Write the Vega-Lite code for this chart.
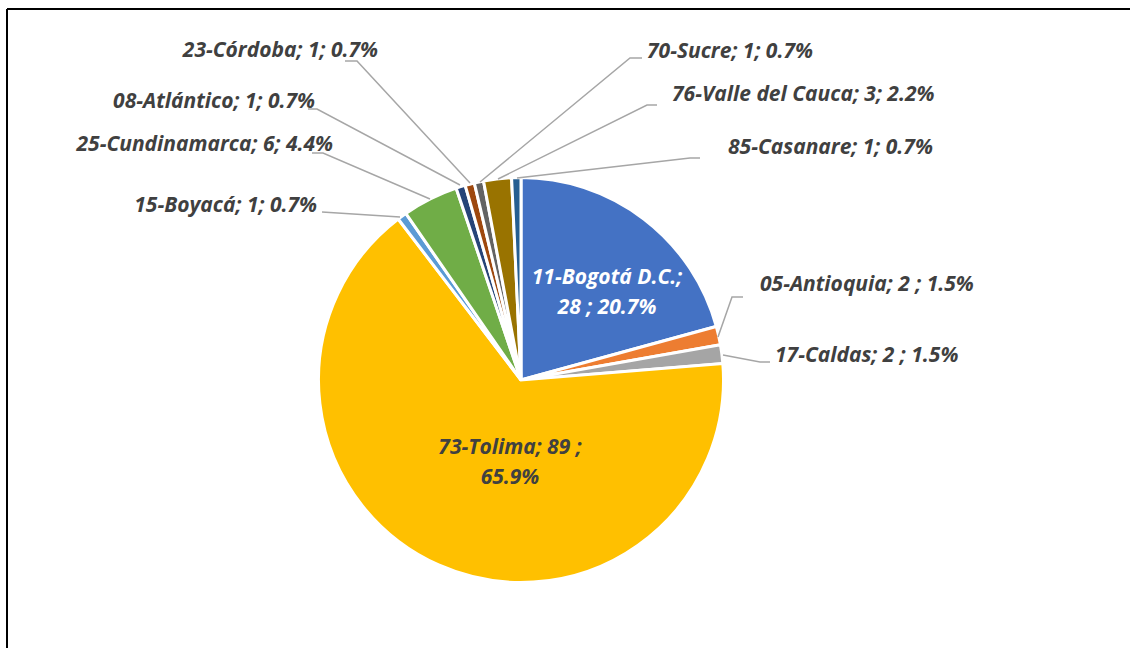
{
  "$schema": "https://vega.github.io/schema/vega-lite/v6.json",
  "width": 1123,
  "height": 639,
  "autosize": {"type": "none"},
  "padding": {"left": 7, "top": 9, "right": 0, "bottom": 0},
  "background": "white",
  "config": {"view": {"stroke": null}},
  "datasets": {
    "depts": [
      {"ord": 1, "dept": "11-Bogotá D.C.", "count": 28},
      {"ord": 2, "dept": "05-Antioquia", "count": 2},
      {"ord": 3, "dept": "17-Caldas", "count": 2},
      {"ord": 4, "dept": "73-Tolima", "count": 89},
      {"ord": 5, "dept": "15-Boyacá", "count": 1},
      {"ord": 6, "dept": "25-Cundinamarca", "count": 6},
      {"ord": 7, "dept": "08-Atlántico", "count": 1},
      {"ord": 8, "dept": "23-Córdoba", "count": 1},
      {"ord": 9, "dept": "70-Sucre", "count": 1},
      {"ord": 10, "dept": "76-Valle del Cauca", "count": 3},
      {"ord": 11, "dept": "85-Casanare", "count": 1}
    ],
    "labels_right": [
      {"dept": "23-Córdoba", "label": "23-Córdoba; 1; 0.7%", "x": -143, "y": 329},
      {"dept": "08-Atlántico", "label": "08-Atlántico; 1; 0.7%", "x": -206, "y": 278},
      {"dept": "25-Cundinamarca", "label": "25-Cundinamarca; 6; 4.4%", "x": -188, "y": 235},
      {"dept": "15-Boyacá", "label": "15-Boyacá; 1; 0.7%", "x": -204, "y": 174}
    ],
    "labels_left": [
      {"dept": "70-Sucre", "label": "70-Sucre; 1; 0.7%", "x": 126, "y": 328},
      {"dept": "76-Valle del Cauca", "label": "76-Valle del Cauca; 3; 2.2%", "x": 151, "y": 285},
      {"dept": "85-Casanare", "label": "85-Casanare; 1; 0.7%", "x": 207, "y": 232},
      {"dept": "05-Antioquia", "label": "05-Antioquia; 2 ; 1.5%", "x": 239, "y": 95},
      {"dept": "17-Caldas", "label": "17-Caldas; 2 ; 1.5%", "x": 254, "y": 24}
    ],
    "labels_inside": [
      {"dept": "11-Bogotá D.C.", "label": "11-Bogotá D.C.;\n28 ; 20.7%", "x": 86, "y": 102},
      {"dept": "73-Tolima", "label": "73-Tolima; 89 ;\n65.9%", "x": -11, "y": -68}
    ],
    "leaders": [
      {"dept": "23-Córdoba", "seq": 1, "x": -176, "y": 319},
      {"dept": "23-Córdoba", "seq": 2, "x": -164, "y": 319},
      {"dept": "23-Córdoba", "seq": 3, "x": -51, "y": 197},
      {"dept": "08-Atlántico", "seq": 1, "x": -213, "y": 271},
      {"dept": "08-Atlántico", "seq": 2, "x": -204, "y": 271},
      {"dept": "08-Atlántico", "seq": 3, "x": -61, "y": 195},
      {"dept": "25-Cundinamarca", "seq": 1, "x": -209, "y": 227},
      {"dept": "25-Cundinamarca", "seq": 2, "x": -198, "y": 227},
      {"dept": "25-Cundinamarca", "seq": 3, "x": -91, "y": 181},
      {"dept": "15-Boyacá", "seq": 1, "x": -199, "y": 168},
      {"dept": "15-Boyacá", "seq": 2, "x": -121, "y": 163},
      {"dept": "70-Sucre", "seq": 1, "x": 121, "y": 322},
      {"dept": "70-Sucre", "seq": 2, "x": 109, "y": 322},
      {"dept": "70-Sucre", "seq": 3, "x": -41, "y": 198},
      {"dept": "76-Valle del Cauca", "seq": 1, "x": 136, "y": 275},
      {"dept": "76-Valle del Cauca", "seq": 2, "x": 126, "y": 275},
      {"dept": "76-Valle del Cauca", "seq": 3, "x": -23, "y": 201},
      {"dept": "85-Casanare", "seq": 1, "x": 179, "y": 222},
      {"dept": "85-Casanare", "seq": 2, "x": 169, "y": 222},
      {"dept": "85-Casanare", "seq": 3, "x": -4, "y": 202},
      {"dept": "05-Antioquia", "seq": 1, "x": 222, "y": 83},
      {"dept": "05-Antioquia", "seq": 2, "x": 211, "y": 83},
      {"dept": "05-Antioquia", "seq": 3, "x": 197, "y": 43},
      {"dept": "17-Caldas", "seq": 1, "x": 249, "y": 18},
      {"dept": "17-Caldas", "seq": 2, "x": 239, "y": 18},
      {"dept": "17-Caldas", "seq": 3, "x": 202, "y": 25}
    ]
  },
  "layer": [
    {
      "data": {"values": [{}]},
      "mark": {"type": "rule", "color": "black", "strokeWidth": 2},
      "encoding": {"x": {"value": 0}}
    },
    {
      "data": {"values": [{}]},
      "mark": {"type": "rule", "color": "black", "strokeWidth": 2},
      "encoding": {"y": {"value": 0}}
    },
    {
      "data": {"name": "depts"},
      "mark": {"type": "arc", "outerRadius": 202.5, "stroke": "white", "strokeWidth": 3},
      "encoding": {
        "theta": {"field": "count", "type": "quantitative", "stack": true},
        "order": {"field": "ord", "type": "quantitative"},
        "color": {
          "field": "dept",
          "type": "nominal",
          "legend": null,
          "scale": {
            "domain": ["11-Bogotá D.C.", "05-Antioquia", "17-Caldas", "73-Tolima", "15-Boyacá", "25-Cundinamarca", "08-Atlántico", "23-Córdoba", "70-Sucre", "76-Valle del Cauca", "85-Casanare"],
            "range": ["#4472C4", "#ED7D31", "#A5A5A5", "#FFC000", "#5B9BD5", "#70AD47", "#264478", "#9E480E", "#636363", "#997300", "#255E91"]
          }
        },
        "x": {"datum": 0, "type": "quantitative", "scale": {"domain": [-514, 609], "nice": false, "zero": false}, "axis": null},
        "y": {"datum": 0, "type": "quantitative", "scale": {"domain": [-268, 371], "nice": false, "zero": false}, "axis": null}
      }
    },
    {
      "data": {"name": "leaders"},
      "mark": {"type": "line", "color": "#A6A6A6", "strokeWidth": 1.5},
      "encoding": {
        "x": {"field": "x", "type": "quantitative", "scale": {"domain": [-514, 609], "nice": false, "zero": false}, "axis": null},
        "y": {"field": "y", "type": "quantitative", "scale": {"domain": [-268, 371], "nice": false, "zero": false}, "axis": null},
        "detail": {"field": "dept", "type": "nominal"},
        "order": {"field": "seq", "type": "quantitative"}
      }
    },
    {
      "data": {"name": "labels_right"},
      "mark": {"type": "text", "align": "right", "baseline": "middle", "font": "Open Sans", "fontSize": 21, "fontWeight": "bold", "fontStyle": "italic", "color": "#404040"},
      "encoding": {
        "x": {"field": "x", "type": "quantitative", "axis": null},
        "y": {"field": "y", "type": "quantitative", "axis": null},
        "text": {"field": "label"}
      }
    },
    {
      "data": {"name": "labels_left"},
      "mark": {"type": "text", "align": "left", "baseline": "middle", "font": "Open Sans", "fontSize": 21, "fontWeight": "bold", "fontStyle": "italic", "color": "#404040"},
      "encoding": {
        "x": {"field": "x", "type": "quantitative", "axis": null},
        "y": {"field": "y", "type": "quantitative", "axis": null},
        "text": {"field": "label"}
      }
    },
    {
      "data": {"name": "labels_inside"},
      "mark": {"type": "text", "align": "center", "baseline": "middle", "font": "Open Sans", "fontSize": 21, "fontWeight": "bold", "fontStyle": "italic", "lineBreak": "\n", "lineHeight": 30},
      "encoding": {
        "x": {"field": "x", "type": "quantitative", "axis": null},
        "y": {"field": "y", "type": "quantitative", "axis": null},
        "text": {"field": "label"},
        "color": {"condition": {"test": "datum.dept === '11-Bogotá D.C.'", "value": "white"}, "value": "#404040"}
      }
    }
  ]
}
